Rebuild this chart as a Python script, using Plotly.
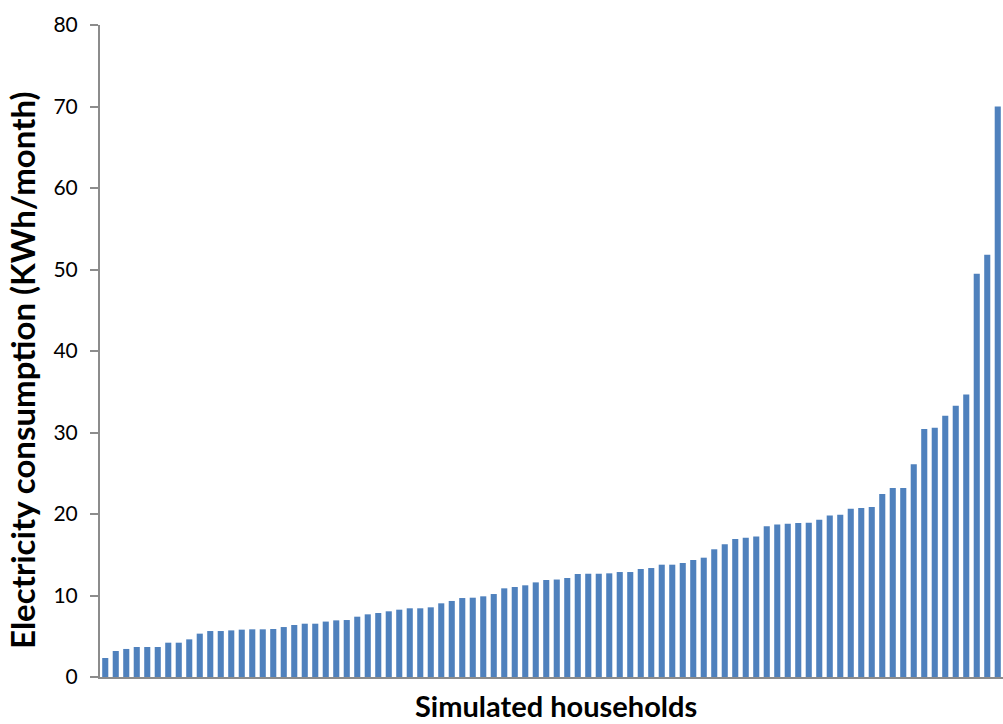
import plotly.graph_objects as go

households = list(range(1, 87))
consumption = [
    2.33, 3.19, 3.44, 3.68, 3.68, 3.68, 4.21, 4.21, 4.62, 5.32,
    5.64, 5.64, 5.72, 5.81, 5.85, 5.85, 5.89, 6.13, 6.38, 6.54,
    6.54, 6.80, 6.95, 6.99, 7.40, 7.69, 7.85, 8.06, 8.26, 8.43,
    8.43, 8.55, 9.04, 9.33, 9.69, 9.73, 9.90, 10.18, 10.88, 11.04,
    11.25, 11.61, 11.90, 11.96, 12.15, 12.64, 12.67, 12.67, 12.72, 12.88,
    12.88, 13.25, 13.37, 13.78, 13.78, 13.99, 14.36, 14.64, 15.67, 16.28,
    16.93, 17.10, 17.23, 18.50, 18.70, 18.80, 18.90, 18.93, 19.30, 19.83,
    19.91, 20.65, 20.73, 20.86, 22.45, 23.19, 23.19, 26.10, 30.43, 30.59,
    32.06, 33.29, 34.67, 49.48, 51.80, 70.00,
]
y_ticks = [0, 10, 20, 30, 40, 50, 60, 70, 80]
x_title = "Simulated households"
y_title = "Electricity consumption (KWh/month)"

W, H = 1003, 724
ML, MR, MT, MB = 100, 0, 25, 47
PW, PH = W - ML - MR, H - MT - MB

fig = go.Figure(
    go.Bar(
        x=[str(h) for h in households],
        y=consumption,
        marker=dict(color="#4F81BD", line=dict(width=0)),
    )
)

fig.update_layout(
    width=W,
    height=H,
    margin=dict(l=ML, r=MR, t=MT, b=MB),
    paper_bgcolor="white",
    plot_bgcolor="white",
    bargap=0.42,
    showlegend=False,
    font=dict(family="Lato, 'Open Sans', sans-serif", color="#000000"),
    annotations=[
        dict(
            text="<b>" + x_title + "</b>",
            xref="paper", yref="paper",
            x=(556 - ML) / PW, y=(677 - 705) / PH,
            xanchor="center", yanchor="middle",
            showarrow=False, font=dict(size=29),
        ),
        dict(
            text="<b>" + y_title + "</b>",
            xref="paper", yref="paper",
            x=(22 - ML) / PW, y=(677 - 370) / PH,
            xanchor="center", yanchor="middle", textangle=-90,
            showarrow=False, font=dict(size=33),
        ),
    ],
)

fig.update_xaxes(
    type="category",
    showticklabels=False,
    ticks="",
    showgrid=False,
    showline=True,
    linecolor="#8C8C8C",
    linewidth=2,
    zeroline=False,
)

fig.update_yaxes(
    range=[0, 80],
    tickvals=y_ticks,
    ticktext=[str(t) for t in y_ticks],
    ticks="outside",
    ticklen=8,
    tickwidth=1.5,
    tickcolor="#8C8C8C",
    tickfont=dict(size=21),
    ticklabelstandoff=8,
    showgrid=False,
    showline=True,
    linecolor="#8C8C8C",
    linewidth=2,
    zeroline=False,
)

fig.write_html(
    "out.html",
    config={"displayModeBar": False},
    post_script="document.body.style.margin='0px';",
)
